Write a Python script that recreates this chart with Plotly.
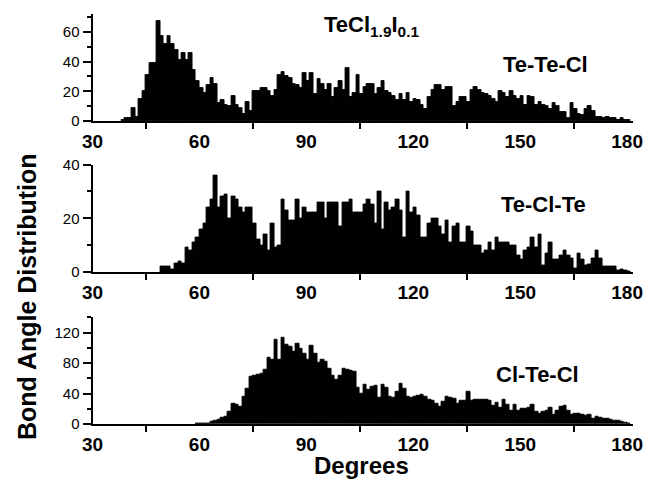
import numpy as np
import plotly.graph_objects as go

# ---- data (bin start angle in degrees, 1-degree bins) ----
tetecl_start = 38
tetecl_counts = [1, 2, 2, 9, 3, 15, 20, 31, 39, 39, 67, 57, 52, 57, 52, 48, 41, 46, 41, 46,
                 34, 27, 22, 19, 24, 29, 25, 12, 14, 11, 10, 17, 11, 9, 5, 13, 7,
                 20, 20, 22, 22, 20, 17, 21, 31, 33, 30, 29, 25, 24, 22, 32, 27, 32, 18, 28, 25,
                 21, 25, 16, 22, 27, 21, 36, 16, 19, 31, 18, 23, 25, 25, 18, 22, 27, 20, 19, 17,
                 14, 18, 14, 19, 13, 15, 14, 11, 8, 16, 21, 24, 24, 21, 23,
                 23, 10, 13, 16, 16, 13, 21, 23, 21, 19, 18, 17, 15, 13, 20, 19, 16, 20, 17, 15,
                 17, 11, 17, 16, 11, 13, 11, 10, 8, 12, 10, 6, 6, 2, 12, 8, 5, 4, 8, 10,
                 7, 3, 3, 2, 3, 2, 2, 1, 2, 1, 1]

teclte_start = 49
teclte_counts = [2, 2, 2, 1, 3, 4, 3, 9, 8, 11, 13, 16, 18, 24, 27, 36, 24, 28, 29, 20,
                 28, 27, 24, 22, 24, 24, 18,
                 12, 10, 14, 8, 18, 9, 10, 27, 23, 19, 19, 27, 20, 24, 22, 22, 22, 26, 26, 20,
                 26, 26, 26, 17, 26, 26, 27, 22, 22, 22, 25, 27, 25, 18, 30, 16, 26, 23, 24, 27,
                 23, 13, 30, 22, 24, 21, 13, 13, 18, 20, 20, 17, 14, 19,
                 11, 17, 18, 11, 11, 17, 15, 10, 10, 7, 8, 11, 8, 13, 11, 11, 11, 10, 10, 6,
                 4.5, 8, 9, 13, 9, 14, 2.6, 7, 11, 4.5, 4.5, 6, 8, 6, 5, 1.4, 7, 4.5, 2.6, 2.8,
                 5, 8, 5, 2.2, 2, 2, 2, 0.7, 1.1, 0.5, 0.2]

cltecl_start = 59
cltecl_counts = [0.5, 0.5, 1, 1, 3, 4, 6, 8, 10, 16, 27, 25, 23, 36, 47, 62,
                 63, 65, 66, 72, 87, 84, 111, 85, 113, 104, 102, 95, 105, 99, 92, 84, 103, 92, 80, 84,
                 82, 73, 64, 58, 63, 73, 71, 70, 69, 48, 40, 51, 45, 49, 50, 34, 51, 48, 36, 35,
                 42, 53, 46, 36, 35, 36, 37, 38, 36, 32, 31, 27, 23, 29, 36,
                 35, 33, 27, 30, 31, 42, 30, 32, 32, 32, 32, 31, 24, 28, 22, 32, 25, 18, 25, 18,
                 20, 20, 22, 26, 16, 14, 16, 18, 21, 12, 18, 23, 24, 17, 12, 14, 13, 12, 10.5, 12,
                 7.4, 9.6, 8.3, 6.5, 6.5, 5.2, 4.4, 4.4, 3, 1.7, 0.9]

panel_labels = ["Te-Te-Cl", "Te-Cl-Te", "Cl-Te-Cl"]
x_ticks = [30, 60, 90, 120, 150, 180]
y_ranges = [[0, 72], [0, 40], [0, 141]]
y_dticks = [20, 20, 40]

series = [(tetecl_start, tetecl_counts), (teclte_start, teclte_counts), (cltecl_start, cltecl_counts)]

W, H = 650, 481
FONT = "Arial, Liberation Sans, Helvetica, sans-serif"

x_dom = [92.5 / W, 632.5 / W]
# pixel top/bottom of each panel's plotting area
panel_px = [(14, 121), (164.5, 272), (316.7, 424)]

fig = go.Figure()
for i, (start, counts) in enumerate(series):
    angles = np.arange(start, start + len(counts))
    suf = "" if i == 0 else str(i + 1)
    fig.add_trace(go.Bar(
        x=angles, y=counts, offset=0, width=1,
        marker=dict(color="black", line=dict(color="black", width=0.9)),
        xaxis="x" + suf, yaxis="y" + suf, showlegend=False,
    ))
    top, bot = panel_px[i]
    fig.layout["xaxis" + suf] = dict(
        domain=x_dom, anchor="y" + suf, range=[30, 181.5],
        showline=True, linecolor="black", linewidth=2,
        tickmode="array", tickvals=x_ticks, ticks="",
        ticklabelstandoff=2, automargin=False,
        tickfont=dict(family=FONT, size=19, color="black", weight="bold"),
        minor=dict(tick0=45, dtick=30, ticks="outside", ticklen=6, tickwidth=2, tickcolor="black"),
        showgrid=False, zeroline=False, fixedrange=True,
    )
    fig.layout["yaxis" + suf] = dict(
        domain=[1 - bot / H, 1 - top / H], anchor="x" + suf, range=y_ranges[i],
        showline=True, linecolor="black", linewidth=2, automargin=False,
        tick0=0, dtick=y_dticks[i], ticks="outside", ticklen=8, tickwidth=2, tickcolor="black",
        minor=dict(dtick=y_dticks[i] / 2, ticks="outside", ticklen=4, tickwidth=2, tickcolor="black"),
        tickfont=dict(family=FONT, size=15, color="black"),
        showgrid=False, zeroline=False, fixedrange=True,
    )

label_pos = [(545, 65), (543, 205), (537, 374)]
annotations = []
for lab, (px, py) in zip(panel_labels, label_pos):
    annotations.append(dict(text="<b>%s</b>" % lab, x=px / W, y=1 - py / H, xref="paper", yref="paper",
                            showarrow=False, xanchor="center", yanchor="middle",
                            font=dict(family=FONT, size=22, color="black")))
annotations.append(dict(text="<b>TeCl<sub>1.9</sub>I<sub>0.1</sub></b>", x=371 / W, y=1 - 26 / H,
                        xref="paper", yref="paper", showarrow=False, xanchor="center", yanchor="middle",
                        font=dict(family=FONT, size=22, color="black")))
annotations.append(dict(text="<b>Bond Angle Distribution</b>", x=27 / W, y=1 - 297 / H,
                        xref="paper", yref="paper", showarrow=False, textangle=-90,
                        xanchor="center", yanchor="middle",
                        font=dict(family=FONT, size=25, color="black")))
annotations.append(dict(text="<b>Degrees</b>", x=361 / W, y=1 - 465 / H,
                        xref="paper", yref="paper", showarrow=False,
                        xanchor="center", yanchor="middle",
                        font=dict(family=FONT, size=24, color="black")))

fig.update_layout(
    width=W, height=H, margin=dict(l=0, r=0, t=0, b=0, pad=0, autoexpand=False),
    paper_bgcolor="white", plot_bgcolor="white",
    bargap=0, annotations=annotations, showlegend=False,
)
fig.write_html("out.html")
